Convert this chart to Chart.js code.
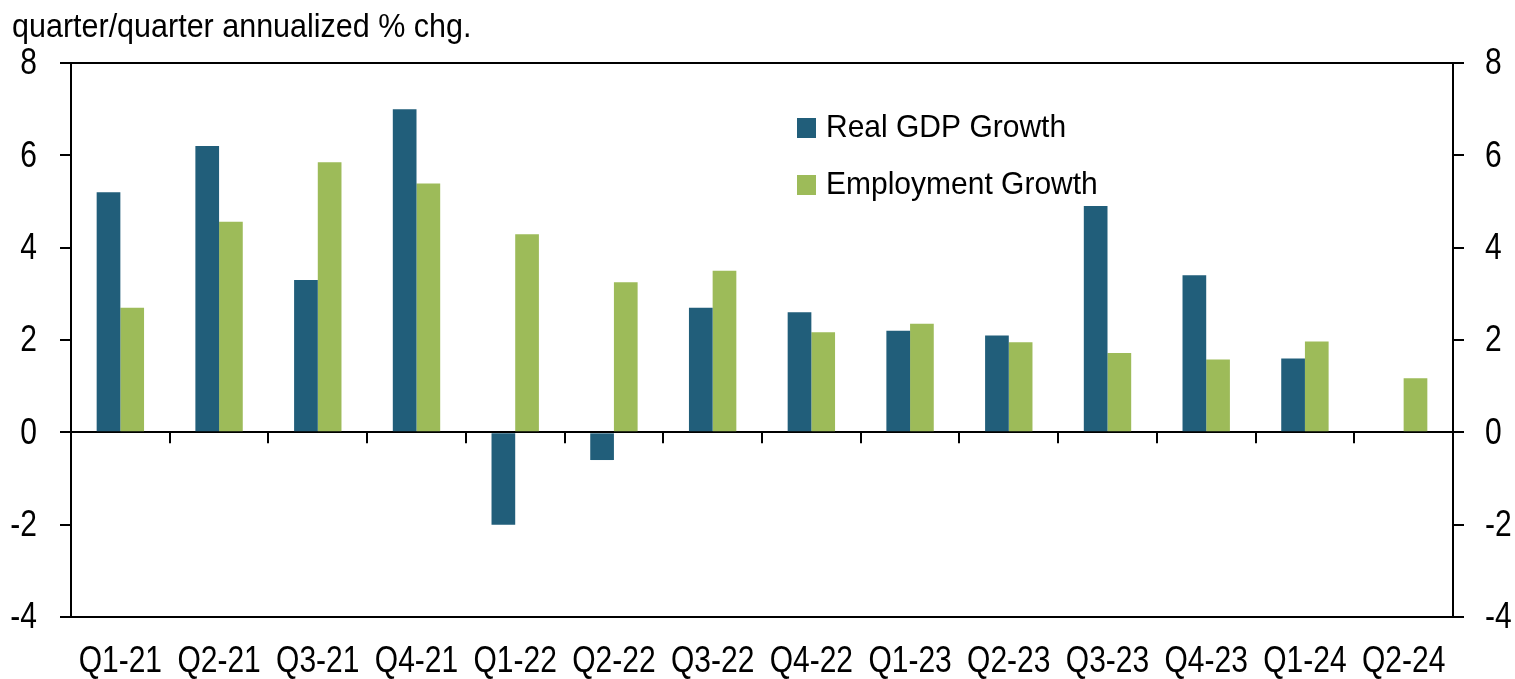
<!DOCTYPE html>
<html>
<head>
<meta charset="utf-8">
<script src="https://cdn.jsdelivr.net/npm/chart.js@4.4.1/dist/chart.umd.min.js"></script>
<style>
  html, body { margin: 0; padding: 0; background: #fff; }
  #wrap { width: 1515px; height: 679px; }
</style>
</head>
<body>
<div id="wrap"><canvas id="gdpChart"></canvas></div>
<script>
// Chart data
const quarters = ['Q1-21', 'Q2-21', 'Q3-21', 'Q4-21', 'Q1-22', 'Q2-22', 'Q3-22',
  'Q4-22', 'Q1-23', 'Q2-23', 'Q3-23', 'Q4-23', 'Q1-24', 'Q2-24'];
const realGdpGrowth = [5.2, 6.2, 3.3, 7.0, -2.0, -0.6, 2.7, 2.6, 2.2, 2.1, 4.9, 3.4, 1.6, null];
const employmentGrowth = [2.7, 4.56, 5.85, 5.39, 4.29, 3.25, 3.5, 2.17, 2.35, 1.95, 1.72, 1.58, 1.97, 1.17];
const yTicks = [-4, -2, 0, 2, 4, 6, 8];

const FONT = "'Liberation Sans', Arial, sans-serif";
const GDP_COLOR = '#215e7a';
const EMP_COLOR = '#9dbb59';

// the source text is taller than Arial at the same width, so stretch it a bit
function tallText(ctx, text, x, y, align, size, stretch) {
  ctx.save();
  ctx.translate(x, y);
  ctx.scale(1, stretch);
  ctx.font = size + 'px ' + FONT;
  ctx.textAlign = align;
  ctx.textBaseline = 'middle';
  ctx.fillText(text, 0, 0);
  ctx.restore();
}

// Title, tick labels, legend and the category ticks hanging off the zero line
const extrasPlugin = {
  id: 'extras',
  afterDraw(chart) {
    const ctx = chart.ctx;
    const area = chart.chartArea;
    const x = chart.scales.x;
    const y = chart.scales.y;
    ctx.save();
    ctx.fillStyle = '#000';

    tallText(ctx, 'quarter/quarter annualized % chg.', 12, 28, 'left', 30.5, 1.1);

    // y labels on both sides
    yTicks.forEach(v => {
      const py = y.getPixelForValue(v) + 1;
      tallText(ctx, String(v), area.left - 34, py, 'right', 30, 1.25);
      tallText(ctx, String(v), area.right + 32, py, 'left', 30, 1.25);
    });

    // category labels
    quarters.forEach((q, i) => {
      tallText(ctx, q, x.getPixelForValue(i), area.bottom + 45, 'center', 30, 1.25);
    });

    // ticks between categories, pointing down from zero
    const zero = y.getPixelForValue(0);
    ctx.strokeStyle = '#000';
    ctx.lineWidth = 2;
    ctx.beginPath();
    for (let i = 1; i < quarters.length; i++) {
      const px = Math.round((x.getPixelForValue(i - 1) + x.getPixelForValue(i)) / 2);
      ctx.moveTo(px, zero);
      ctx.lineTo(px, zero + 11);
    }
    ctx.stroke();

    // legend
    const lx = area.left + 726;
    chart.data.datasets.forEach((ds, i) => {
      const ly = area.top + 65 + i * 57;
      ctx.fillStyle = ds.backgroundColor;
      ctx.fillRect(lx, ly - 10, 19, 20);
      ctx.fillStyle = '#000';
      tallText(ctx, ds.label, lx + 29, ly, 'left', 30, 1.05);
    });
    ctx.restore();
  }
};

const yAxisBase = {
  type: 'linear',
  min: -4,
  max: 8,
  afterBuildTicks: axis => { axis.ticks = yTicks.map(v => ({ value: v })); },
  border: { display: true, color: '#000', width: 2 },
  ticks: { display: false }
};

new Chart(document.getElementById('gdpChart'), {
  type: 'bar',
  data: {
    labels: quarters,
    datasets: [{
      label: 'Real GDP Growth',
      data: realGdpGrowth,
      backgroundColor: GDP_COLOR,
      barPercentage: 1,
      categoryPercentage: 0.48
    }, {
      label: 'Employment Growth',
      data: employmentGrowth,
      backgroundColor: EMP_COLOR,
      barPercentage: 1,
      categoryPercentage: 0.48
    }]
  },
  options: {
    responsive: true,
    maintainAspectRatio: false,
    animation: false,
    layout: { padding: { top: 63, left: 0, right: 0, bottom: 0 } },
    plugins: {
      legend: { display: false },
      tooltip: { enabled: false }
    },
    scales: {
      x: {
        grid: { display: false },
        border: { display: true, color: '#000', width: 2 },
        ticks: { display: false },
        afterFit: scale => { scale.height = 62; }
      },
      y: Object.assign({}, yAxisBase, {
        position: 'left',
        grid: {
          drawOnChartArea: true,
          color: ctx => (ctx.tick && (ctx.tick.value === 0 || ctx.tick.value === 8)) ? '#000' : 'rgba(0,0,0,0)',
          lineWidth: 2,
          tickColor: '#000',
          tickLength: 11
        },
        afterFit: scale => { scale.width = 71; }
      }),
      y2: Object.assign({}, yAxisBase, {
        position: 'right',
        grid: {
          drawOnChartArea: false,
          lineWidth: 2,
          tickColor: '#000',
          tickLength: 11
        },
        afterFit: scale => { scale.width = 62; }
      })
    }
  },
  plugins: [extrasPlugin]
});
</script>
</body>
</html>
